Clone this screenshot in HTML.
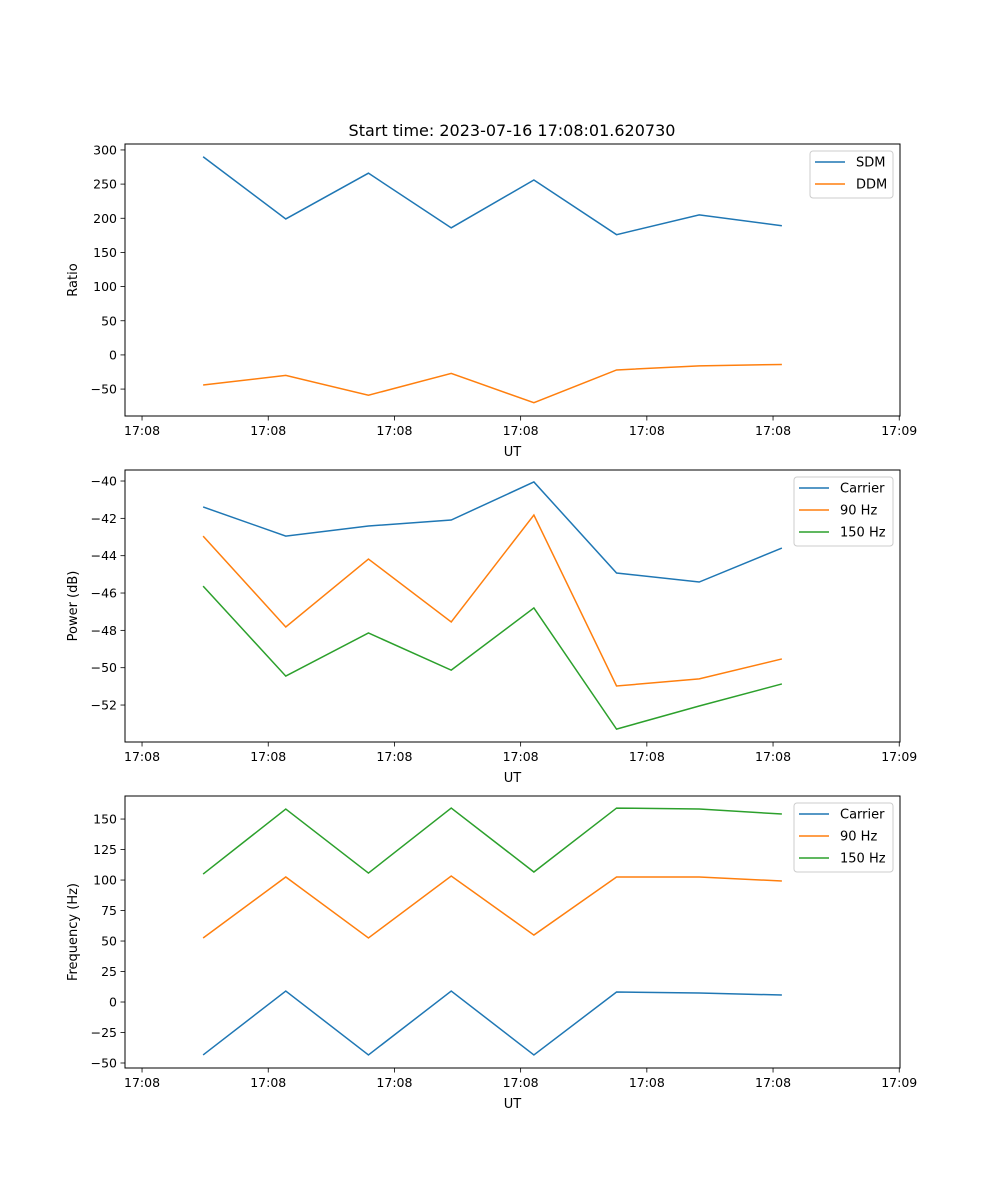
<!DOCTYPE html>
<html><head><meta charset="utf-8"><style>
body{margin:0;background:#fff;}
svg{display:block;font-family:"DejaVu Sans","Liberation Sans",sans-serif;}
</style></head><body>
<svg id="fig" width="1000" height="1200" xmlns="http://www.w3.org/2000/svg">
<text x="512" y="136" font-size="16" text-anchor="middle">Start time: 2023-07-16 17:08:01.620730</text>
</svg>
<script>
const times = [4.84, 11.39, 17.94, 24.5, 31.05, 37.6, 44.15, 50.7];
const xTickVals = [0, 10, 20, 30, 40, 50, 60];
const xTickLabels = ["17:08","17:08","17:08","17:08","17:08","17:08","17:09"];
const sdm = [290, 199, 266, 186, 256, 176, 205, 189];
const ddm = [-44, -30, -59, -27, -70, -22, -16, -14];
const powCarrier = [-41.39, -42.95, -42.41, -42.09, -40.05, -44.93, -45.41, -43.59];
const pow90 = [-42.95, -47.82, -44.18, -47.55, -41.82, -50.98, -50.6, -49.53];
const pow150 = [-45.63, -50.45, -48.14, -50.13, -46.8, -53.29, -52.05, -50.87];
const freqCarrier = [-43.4, 9, -43.4, 9, -43.4, 8.2, 7.4, 5.7];
const freq90 = [52.5, 102.5, 52.5, 103.3, 54.9, 102.5, 102.5, 99.2];
const freq150 = [104.9, 158.2, 105.7, 159, 106.6, 159, 158.2, 154.1];
const ticks1 = [-50, 0, 50, 100, 150, 200, 250, 300];
const ticks2 = [-52, -50, -48, -46, -44, -42, -40];
const ticks3 = [-50, -25, 0, 25, 50, 75, 100, 125, 150];

const NS = "http://www.w3.org/2000/svg";
const svg = document.getElementById("fig");
const C = ["#1f77b4", "#ff7f0e", "#2ca02c"];
function mk(tag, attrs, parent) {
  const e = document.createElementNS(NS, tag);
  for (const k in attrs) e.setAttribute(k, attrs[k]);
  (parent || svg).appendChild(e);
  return e;
}
const L = 125, R = 900;
const xMin = -1.35, xMax = 60.06;
function xs(t) { return L + (t - xMin) / (xMax - xMin) * (R - L); }

function panel(name, top, bottom, yMin, yMax, yTicks, yLabel, series, legend) {
  const g = mk("g", {});
  
  
  const ys = v => bottom - (v - yMin) / (yMax - yMin) * (bottom - top);
  const clip = mk("clipPath", { id: "clip-" + name }, g);
  mk("rect", { x: L, y: top, width: R - L, height: bottom - top }, clip);
  series.forEach((s, i) => {
    const p = mk("polyline", {
      points: s.vals.map((v, j) => xs(times[j]).toFixed(2) + "," + ys(v).toFixed(2)).join(" "),
      fill: "none", stroke: C[i], "stroke-width": 1.5, "clip-path": "url(#clip-" + name + ")"
    }, g);
    
    
  });
  const frame = mk("rect", { x: L, y: top, width: R - L, height: bottom - top, fill: "none", stroke: "#000", "stroke-width": 1 }, g);
  
  
  xTickVals.forEach((t, i) => {
    const x = xs(t);
    mk("line", { x1: x, x2: x, y1: bottom, y2: bottom + 4.5, stroke: "#000", "stroke-width": 0.8 }, g);
    const tx = mk("text", { x: x, y: bottom + 19, "font-size": 12.5, "text-anchor": "middle" }, g);
    tx.textContent = xTickLabels[i];
    
    
  });
  yTicks.forEach(v => {
    const y = ys(v);
    mk("line", { x1: L - 4.5, x2: L, y1: y, y2: y, stroke: "#000", "stroke-width": 0.8 }, g);
    const tx = mk("text", { x: L - 8, y: y + 4.5, "font-size": 12.5, "text-anchor": "end" }, g);
    tx.textContent = String(v).replace("-", "\u2212");
    
    
  });
  const xl = mk("text", { x: (L + R) / 2, y: bottom + 40, "font-size": 13, "text-anchor": "middle" }, g);
  xl.textContent = "UT";
  
  
  const cy = (top + bottom) / 2;
  const yl = mk("text", { x: 77, y: cy, "font-size": 13, "text-anchor": "middle", transform: "rotate(-90 77 " + cy + ")" }, g);
  yl.textContent = yLabel;
  
  
  // legend
  const lg = mk("g", {}, g);
  
  
  mk("rect", { x: legend.x, y: top + 7, width: R - 7 - legend.x, height: series.length * 22 + 3, rx: 3, fill: "#fff", stroke: "#ccc", "stroke-width": 1 }, lg);
  series.forEach((s, i) => {
    const y = top + 18 + i * 22;
    const e = mk("g", {}, lg);
    
    
    mk("line", { x1: legend.x + 5, x2: legend.x + 35, y1: y, y2: y, stroke: C[i], "stroke-width": 1.5 }, e);
    const t = mk("text", { x: legend.x + 46, y: y + 4.5, "font-size": 13 }, e);
    t.textContent = s.label;
  });
}

panel("ratio-panel", 144, 416, -89.4, 308.7, ticks1, "Ratio",
  [{ key: "sdm", label: "SDM", vals: sdm }, { key: "ddm", label: "DDM", vals: ddm }], { x: 810 });
panel("power-panel", 470, 742, -53.98, -39.41, ticks2, "Power (dB)",
  [{ key: "carrier", label: "Carrier", vals: powCarrier }, { key: "90hz", label: "90 Hz", vals: pow90 }, { key: "150hz", label: "150 Hz", vals: pow150 }], { x: 794 });
panel("frequency-panel", 796, 1068, -54.1, 168.9, ticks3, "Frequency (Hz)",
  [{ key: "carrier", label: "Carrier", vals: freqCarrier }, { key: "90hz", label: "90 Hz", vals: freq90 }, { key: "150hz", label: "150 Hz", vals: freq150 }], { x: 794 });
</script>
</body></html>
